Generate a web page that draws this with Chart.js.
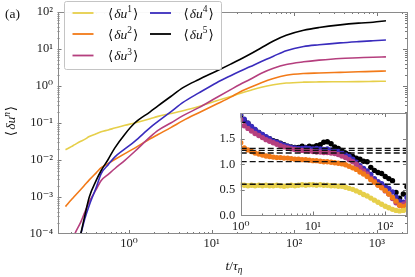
<!DOCTYPE html>
<html><head><meta charset="utf-8">
<script src="https://cdn.jsdelivr.net/npm/chart.js@4/dist/chart.umd.min.js"></script>
<style>
html,body{margin:0;padding:0;background:#fff;}
#wrap{position:relative;width:415px;height:277px;overflow:hidden;}
#main{position:absolute;left:0;top:0;}
#inset{position:absolute;left:205px;top:100px;}
</style></head><body>
<div id="wrap"><canvas id="main" width="415" height="277"></canvas><canvas id="inset" width="210" height="135"></canvas></div>
<script>
// ---------- data ----------
const T = [0.17, 0.2, 0.22, 0.26, 0.29, 0.33, 0.4, 0.46, 0.56, 0.67, 0.89, 1.17, 1.8, 2.24, 3.2, 4.5, 7, 11.5, 17, 22, 29, 40, 56, 80, 130, 200, 360, 600, 900, 1290];
const du1 = [0.019, 0.023, 0.026, 0.032, 0.036, 0.043, 0.051, 0.058, 0.065, 0.073, 0.087, 0.100, 0.130, 0.151, 0.18, 0.215, 0.28, 0.40, 0.52, 0.63, 0.76, 0.93, 1.08, 1.2, 1.27, 1.29, 1.30, 1.31, 1.33, 1.35];
const du2 = [0.00055, 0.00084, 0.00106, 0.0016, 0.0021, 0.0029, 0.0045, 0.0062, 0.0081, 0.0103, 0.0149, 0.021, 0.0375, 0.049, 0.075, 0.116, 0.19, 0.325, 0.50, 0.69, 0.905, 1.23, 1.6, 1.95, 2.18, 2.25, 2.34, 2.42, 2.48, 2.54];
const du3 = [0.00002, 0.000055, 0.0001, 0.00021, 0.00038, 0.00075, 0.0016, 0.0028, 0.0041, 0.0058, 0.0098, 0.017, 0.042, 0.063, 0.10, 0.158, 0.26, 0.489, 0.8, 1.1, 1.5, 2.2, 3.0, 3.8, 4.5, 5.0, 5.56, 5.8, 6.0, 6.14];
const du4 = [0.00001, 0.000025, 0.00004, 0.0001, 0.00025, 0.0006, 0.0018, 0.0043, 0.0075, 0.012, 0.02, 0.032, 0.075, 0.11, 0.2, 0.359, 0.65, 1.23, 1.9, 2.5, 3.3, 4.6, 6.4, 9.0, 11.7, 13.0, 14.6, 15.8, 16.7, 17.5];
const du5 = [0.000001, 0.000005, 0.00002, 0.0001, 0.0003, 0.001, 0.0028, 0.0052, 0.0105, 0.021, 0.05, 0.1, 0.2, 0.29, 0.52, 0.9, 1.5, 2.54, 3.9, 5.2, 7.2, 10.8, 16.5, 23.5, 32, 38, 45, 50, 53, 58];

const insetT = [1, 1.12, 1.26, 1.41, 1.58, 1.78, 2, 2.24, 2.51, 2.82, 3.16, 3.55, 3.98, 4.47, 5.01, 5.62, 6.31, 7.08, 7.94, 8.91, 10, 11.2, 12.6, 14.1, 15.8, 17.8, 20, 22.4, 25.1, 28.2, 31.6, 35.5, 39.8, 44.7, 50.1, 56.2, 63.1, 70.8, 79.4, 89.1, 100, 112, 126, 141, 158, 178, 200];
const c1 = [0.60, 0.59, 0.58, 0.59, 0.58, 0.59, 0.58, 0.59, 0.58, 0.58, 0.59, 0.58, 0.57, 0.58, 0.59, 0.58, 0.59, 0.60, 0.59, 0.60, 0.60, 0.59, 0.60, 0.59, 0.59, 0.58, 0.58, 0.57, 0.57, 0.55, 0.53, 0.51, 0.48, 0.45, 0.41, 0.38, 0.34, 0.30, 0.26, 0.22, 0.18, 0.15, 0.12, 0.10, 0.09, 0.10, 0.12];
const c2 = [1.42, 1.32, 1.28, 1.25, 1.22, 1.20, 1.18, 1.16, 1.15, 1.14, 1.13, 1.13, 1.12, 1.12, 1.11, 1.10, 1.10, 1.09, 1.09, 1.08, 1.07, 1.07, 1.06, 1.05, 1.05, 1.04, 1.03, 1.02, 1.01, 0.99, 0.96, 0.93, 0.90, 0.85, 0.81, 0.76, 0.70, 0.65, 0.59, 0.54, 0.49, 0.42, 0.35, 0.28, 0.20, 0.17, 0.20];
const c3 = [1.87, 1.75, 1.70, 1.65, 1.60, 1.56, 1.52, 1.48, 1.45, 1.42, 1.39, 1.36, 1.34, 1.32, 1.30, 1.29, 1.28, 1.27, 1.27, 1.26, 1.25, 1.24, 1.24, 1.23, 1.23, 1.22, 1.21, 1.19, 1.16, 1.13, 1.09, 1.05, 1.00, 0.94, 0.87, 0.81, 0.73, 0.67, 0.60, 0.55, 0.48, 0.42, 0.33, 0.25, 0.20, 0.22, 0.26];
const c4 = [1.98, 1.88, 1.80, 1.74, 1.68, 1.62, 1.58, 1.54, 1.50, 1.45, 1.43, 1.40, 1.37, 1.35, 1.33, 1.32, 1.31, 1.31, 1.32, 1.31, 1.30, 1.31, 1.30, 1.29, 1.30, 1.28, 1.26, 1.25, 1.22, 1.18, 1.15, 1.10, 1.04, 0.97, 0.92, 0.87, 0.80, 0.72, 0.66, 0.62, 0.57, 0.53, 0.46, 0.36, 0.28, 0.26, 0.35];
const c5 = [1.95, 1.85, 1.80, 1.73, 1.67, 1.62, 1.57, 1.53, 1.50, 1.46, 1.44, 1.41, 1.38, 1.35, 1.34, 1.33, 1.33, 1.35, 1.33, 1.35, 1.34, 1.36, 1.38, 1.43, 1.44, 1.40, 1.34, 1.31, 1.27, 1.22, 1.19, 1.15, 1.12, 1.10, 1.06, 1.05, 0.94, 0.88, 0.84, 0.82, 0.76, 0.72, 0.68, 0.45, 0.34, 0.42, 0.56];
const plateaus = [0.61, 1.05, 1.22, 1.27, 1.31];

const orders = ['1', '2', '3', '4', '5'];
const xTicksMain = [1, 10, 100, 1000];
const yTicksMain = [1e-4, 1e-3, 1e-2, 1e-1, 1, 10, 100];
const xTicksInset = [1, 10, 100];
const yTicksInset = [0, 0.5, 1.0, 1.5];

const COLORS = ['#e6cf4a', '#f27a18', '#b53f7e', '#3a2cbd', '#000000'];
const FONT = '"Liberation Serif", "DejaVu Serif", serif';

// ---------- helpers ----------
const SUP = {'0':'⁰','1':'¹','2':'²','3':'³','4':'⁴','5':'⁵','6':'⁶','7':'⁷','8':'⁸','9':'⁹','-':'⁻'};
function pow10Label(v){ const e = Math.round(Math.log10(v)); return '10' + String(e).split('').map(c=>SUP[c]).join(''); }
function logMinor(min, max){ const out=[]; for(let k=Math.floor(Math.log10(min)); k<=Math.ceil(Math.log10(max)); k++){ for(let m=2;m<=9;m++){ const v=m*Math.pow(10,k); if(v>=min&&v<=max) out.push(v);} } return out; }

function drawMath(ctx, parts, x, y, size, align, rotate){
  ctx.save(); ctx.translate(x,y); if(rotate) ctx.rotate(-Math.PI/2);
  let total=0;
  const info = parts.map(p=>{
    const s = (p.sup||p.sub) ? size*0.7 : size;
    const f = (p.it?'italic ':'') + s + 'px ' + FONT;
    ctx.font=f; const w=ctx.measureText(p.t).width + (p.gap||0); total+=w;
    return {f,w,dy: p.sup ? -size*0.4 : (p.sub ? size*0.22 : 0)};
  });
  let cx = align==='center' ? -total/2 : (align==='right' ? -total : 0);
  ctx.textBaseline='alphabetic'; ctx.textAlign='left'; ctx.fillStyle='#111';
  parts.forEach((p,i)=>{ ctx.font=info[i].f; ctx.fillText(p.t, cx, info[i].dy); cx+=info[i].w; });
  ctx.restore();
}
function duLabel(n){ return [{t:'⟨',gap:1},{t:'δu',it:true},{t:n,sup:true,gap:1},{t:'⟩'}]; }

const frameTicks = {
  id:'frameTicks',
  beforeDatasetsDraw(chart, args, o){
    if(o.bg){ const a=chart.chartArea; chart.ctx.save(); chart.ctx.fillStyle='#fff'; chart.ctx.fillRect(a.left,a.top,a.width,a.height); chart.ctx.restore(); }
  },
  afterDatasetsDraw(chart, args, o){
    const {ctx, chartArea:a} = chart; const xs=chart.scales.x, ys=chart.scales.y;
    ctx.save(); ctx.strokeStyle='#555'; ctx.lineWidth=0.8;
    const tx=(vals,len)=>vals.forEach(v=>{ const p=Math.round(xs.getPixelForValue(v))+0.5; if(p<a.left||p>a.right) return;
      ctx.beginPath(); ctx.moveTo(p,a.bottom); ctx.lineTo(p,a.bottom-len); ctx.moveTo(p,a.top); ctx.lineTo(p,a.top+len); ctx.stroke(); });
    const ty=(vals,len)=>vals.forEach(v=>{ const p=Math.round(ys.getPixelForValue(v))+0.5; if(p<a.top||p>a.bottom) return;
      ctx.beginPath(); ctx.moveTo(a.left,p); ctx.lineTo(a.left+len,p); ctx.moveTo(a.right,p); ctx.lineTo(a.right-len,p); ctx.stroke(); });
    tx(o.xMajor,4); tx(o.xMinor,2); ty(o.yMajor,4); ty(o.yMinor,2);
    ctx.strokeStyle='#8a8a8a'; ctx.lineWidth=1;
    ctx.strokeRect(Math.round(a.left)+0.5, Math.round(a.top)+0.5, Math.round(a.width)-1, Math.round(a.height)-1);
    ctx.restore();
  }
};

const decorations = {
  id:'decorations',
  afterDraw(chart){
    const ctx=chart.ctx;
    ctx.save();
    ctx.fillStyle='rgba(255,255,255,0.95)'; ctx.strokeStyle='#c4c4c4'; ctx.lineWidth=1;
    ctx.beginPath(); ctx.roundRect(64.5, 1.5, 157, 68, 2); ctx.fill(); ctx.stroke();
    const pos = [[72.5,13,108],[72.5,34,108],[72.5,55.5,108],[150,13,183.5],[150,34,183.5]];
    orders.forEach((n,i)=>{ const [hx,hy,tx0]=pos[i];
      ctx.strokeStyle=COLORS[i]; ctx.lineWidth=1.8; ctx.beginPath(); ctx.moveTo(hx,hy); ctx.lineTo(hx+21,hy); ctx.stroke();
      drawMath(ctx, duLabel(n), tx0, hy+4.5, 13.5, 'left', false); });
    ctx.restore();
    drawMath(ctx, [{t:'(a)'}], 5, 18, 13.5, 'left', false);
    drawMath(ctx, [{t:'⟨',gap:1},{t:'δu',it:true},{t:'n',sup:true,it:true,gap:1},{t:'⟩'}], 15, 121, 13.5, 'center', true);
    drawMath(ctx, [{t:'t',it:true},{t:'/'},{t:'τ',it:true},{t:'η',sub:true,it:true}], 234, 270, 13.5, 'center', false);
  }
};

const tickFont = {family: FONT, size: 12.5};

// ---------- main chart ----------
new Chart(document.getElementById('main'), {
  type:'line',
  data:{ datasets: [du1,du2,du3,du4,du5].map((s,i)=>({
    label:'⟨δu'+orders[i]+'⟩', data:T.map((t,j)=>({x:t,y:s[j]})), borderColor:COLORS[i], backgroundColor:COLORS[i],
    borderWidth:1.6, pointRadius:0, fill:false, order:4-i, cubicInterpolationMode:'monotone' })) },
  options:{
    responsive:false, animation:false, events:[],
    layout:{padding:{left:0,top:10,right:8,bottom:0}},
    plugins:{legend:{display:false}, tooltip:{enabled:false},
      frameTicks:{xMajor:xTicksMain, xMinor:logMinor(0.136,2320), yMajor:yTicksMain, yMinor:logMinor(1e-4,100)}},
    scales:{
      x:{type:'logarithmic', min:0.136, max:2320, grid:{display:false,drawTicks:false}, border:{display:false},
        ticks:{font:tickFont, color:'#222', padding:2.5, autoSkip:false, maxRotation:0, callback:v=>pow10Label(v)},
        afterBuildTicks:s=>{ s.ticks = xTicksMain.map(v=>({value:v})); }, afterFit:s=>{ s.height=43; }},
      y:{type:'logarithmic', min:1e-4, max:100, grid:{display:false,drawTicks:false}, border:{display:false},
        ticks:{font:tickFont, color:'#222', padding:4.5, autoSkip:false, callback:v=>pow10Label(v)},
        afterBuildTicks:s=>{ s.ticks = yTicksMain.map(v=>({value:v})); }, afterFit:s=>{ s.width=57.5; }}
    }
  },
  plugins:[frameTicks, decorations]
});

// ---------- inset ----------
const insetSets = [];
plateaus.forEach((p,i)=>insetSets.push({label:'plateau '+orders[i], type:'line', data:[{x:1,y:p},{x:200,y:p}],
  borderColor:'#111', borderWidth:1.3, borderDash:[6,3], pointRadius:0, fill:false}));
[c1,c2,c3,c4,c5].forEach((s,i)=>insetSets.push({label:'n='+orders[i], type:'scatter', data:insetT.map((t,j)=>({x:t,y:s[j]})),
  backgroundColor:COLORS[i], borderWidth:0, pointRadius:2.7, showLine:false}));

new Chart(document.getElementById('inset'), {
  type:'scatter',
  data:{datasets:insetSets},
  options:{
    responsive:false, animation:false, events:[],
    layout:{padding:{left:0,top:5,right:8,bottom:0}},
    plugins:{legend:{display:false}, tooltip:{enabled:false},
      frameTicks:{bg:true, xMajor:xTicksInset, xMinor:logMinor(1,200), yMajor:yTicksInset, yMinor:[]}},
    scales:{
      x:{type:'logarithmic', min:1, max:200, grid:{display:false,drawTicks:false}, border:{display:false},
        ticks:{font:tickFont, color:'#222', padding:4, autoSkip:false, maxRotation:0, callback:v=>pow10Label(v)},
        afterBuildTicks:s=>{ s.ticks = xTicksInset.map(v=>({value:v})); }, afterFit:s=>{ s.height=19.5; }},
      y:{type:'linear', min:0, max:2.0, grid:{display:false,drawTicks:false}, border:{display:false},
        ticks:{font:tickFont, color:'#222', padding:5.5, autoSkip:false, callback:v=>v.toFixed(1)},
        afterBuildTicks:s=>{ s.ticks = yTicksInset.map(v=>({value:v})); }, afterFit:s=>{ s.width=35.7; }}
    }
  },
  plugins:[frameTicks]
});
</script>
</body></html>
